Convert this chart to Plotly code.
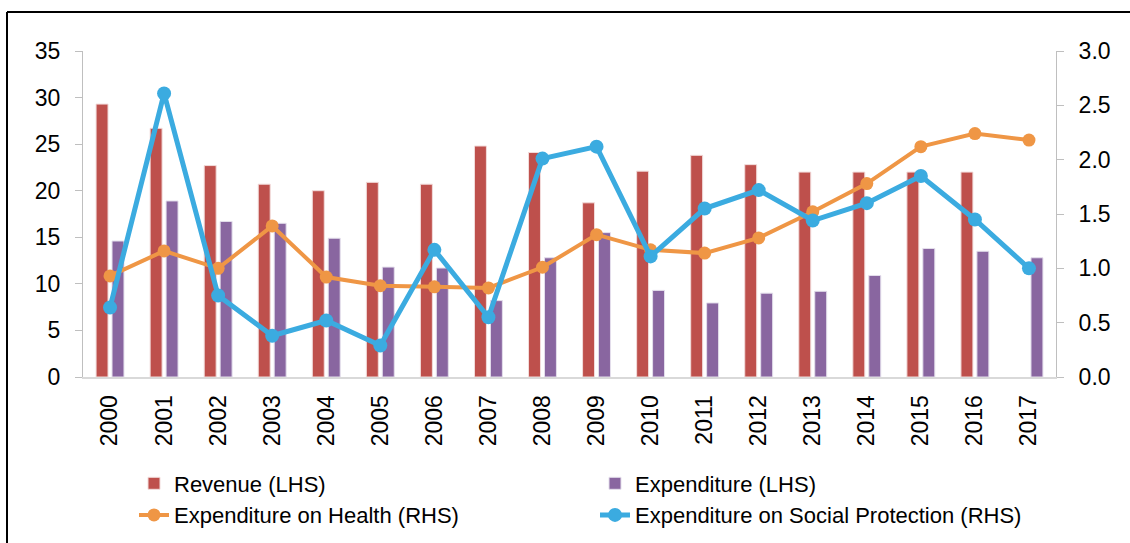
import plotly.graph_objects as go

years = [str(y) for y in range(2000, 2018)]
revenue = [29.3, 26.7, 22.7, 20.7, 20.0, 20.9, 20.7, 24.8, 24.1, 18.7, 22.1, 23.8, 22.8, 22.0, 22.0, 22.0, 22.0, None]
expenditure = [14.6, 18.9, 16.7, 16.5, 14.9, 11.8, 11.7, 8.2, 12.8, 15.5, 9.3, 7.95, 9.0, 9.2, 10.9, 13.8, 13.5, 12.8]
health = [0.93, 1.16, 1.00, 1.39, 0.92, 0.84, 0.83, 0.82, 1.01, 1.31, 1.17, 1.14, 1.28, 1.52, 1.78, 2.12, 2.24, 2.18]
social = [0.64, 2.61, 0.75, 0.38, 0.52, 0.29, 1.17, 0.55, 2.01, 2.12, 1.11, 1.55, 1.72, 1.44, 1.60, 1.85, 1.45, 1.00]

FONT = "Liberation Sans, Arial, sans-serif"

fig = go.Figure()
fig.add_trace(go.Bar(x=years, y=revenue, name="Revenue (LHS)",
                     marker=dict(color="#BE504C", line=dict(color="#F2DCDB", width=1))))
fig.add_trace(go.Bar(x=years, y=expenditure, name="Expenditure (LHS)",
                     marker=dict(color="#8966A0", line=dict(color="#E4DFEC", width=1))))
fig.add_trace(go.Scatter(x=years, y=health, name="Expenditure on Health (RHS)", yaxis="y2",
                         mode="lines+markers", line=dict(color="#EF9645", width=4),
                         marker=dict(size=13, color="#EF9645")))
fig.add_trace(go.Scatter(x=years, y=social, name="Expenditure on Social Protection (RHS)", yaxis="y2",
                         mode="lines+markers", line=dict(color="#3BABE0", width=5),
                         marker=dict(size=14, color="#3BABE0")))

# frame lines (top and left only)
fx = (7 - 83) / 973
fy = (377 - 12) / 326
fig.add_shape(type="line", xref="paper", yref="paper", x0=fx, x1=1.2, y0=fy, y1=fy,
              line=dict(color="black", width=2))
fig.add_shape(type="line", xref="paper", yref="paper", x0=fx, x1=fx, y0=fy, y1=-0.7,
              line=dict(color="black", width=2))

fig.update_layout(
    width=1130, height=543,
    margin=dict(l=83, r=74, t=51, b=166, autoexpand=False),
    paper_bgcolor="white", plot_bgcolor="white",
    font=dict(family=FONT, size=23, color="black"),
    barmode="group", bargap=0.41, bargroupgap=0.25,
    showlegend=True,
    legend=dict(orientation="h", x=(134 - 83) / 973, y=(377 - 462.5) / 326, xanchor="left", yanchor="top",
                entrywidth=416, entrywidthmode="pixels", font=dict(size=22, family=FONT),
                traceorder="normal", bgcolor="rgba(0,0,0,0)"),
    xaxis=dict(type="category", range=[-0.5, len(years) - 0.5], tickangle=-90,
               showline=True, linecolor="#D9D9D9", linewidth=2,
               ticks="", showgrid=False, tickfont=dict(size=23), ticklabelstandoff=7,
               automargin=False),
    yaxis=dict(range=[0, 35], dtick=5, showline=True, linecolor="#BFBFBF", linewidth=1,
               ticks="outside", ticklen=7, tickcolor="#BFBFBF", showgrid=False, zeroline=False,
               tickfont=dict(size=23), ticklabelstandoff=10, automargin=False),
    yaxis2=dict(range=[0, 3], dtick=0.5, tickformat=".1f", overlaying="y", side="right",
                showline=True, linecolor="#BFBFBF", linewidth=1, ticks="outside", ticklen=7,
                tickcolor="#BFBFBF", showgrid=False, zeroline=False, tickfont=dict(size=23),
                ticklabelstandoff=10, automargin=False),
)

fig.write_html("out.html", config={"displayModeBar": False},
               post_script="document.body.style.margin='0';")
